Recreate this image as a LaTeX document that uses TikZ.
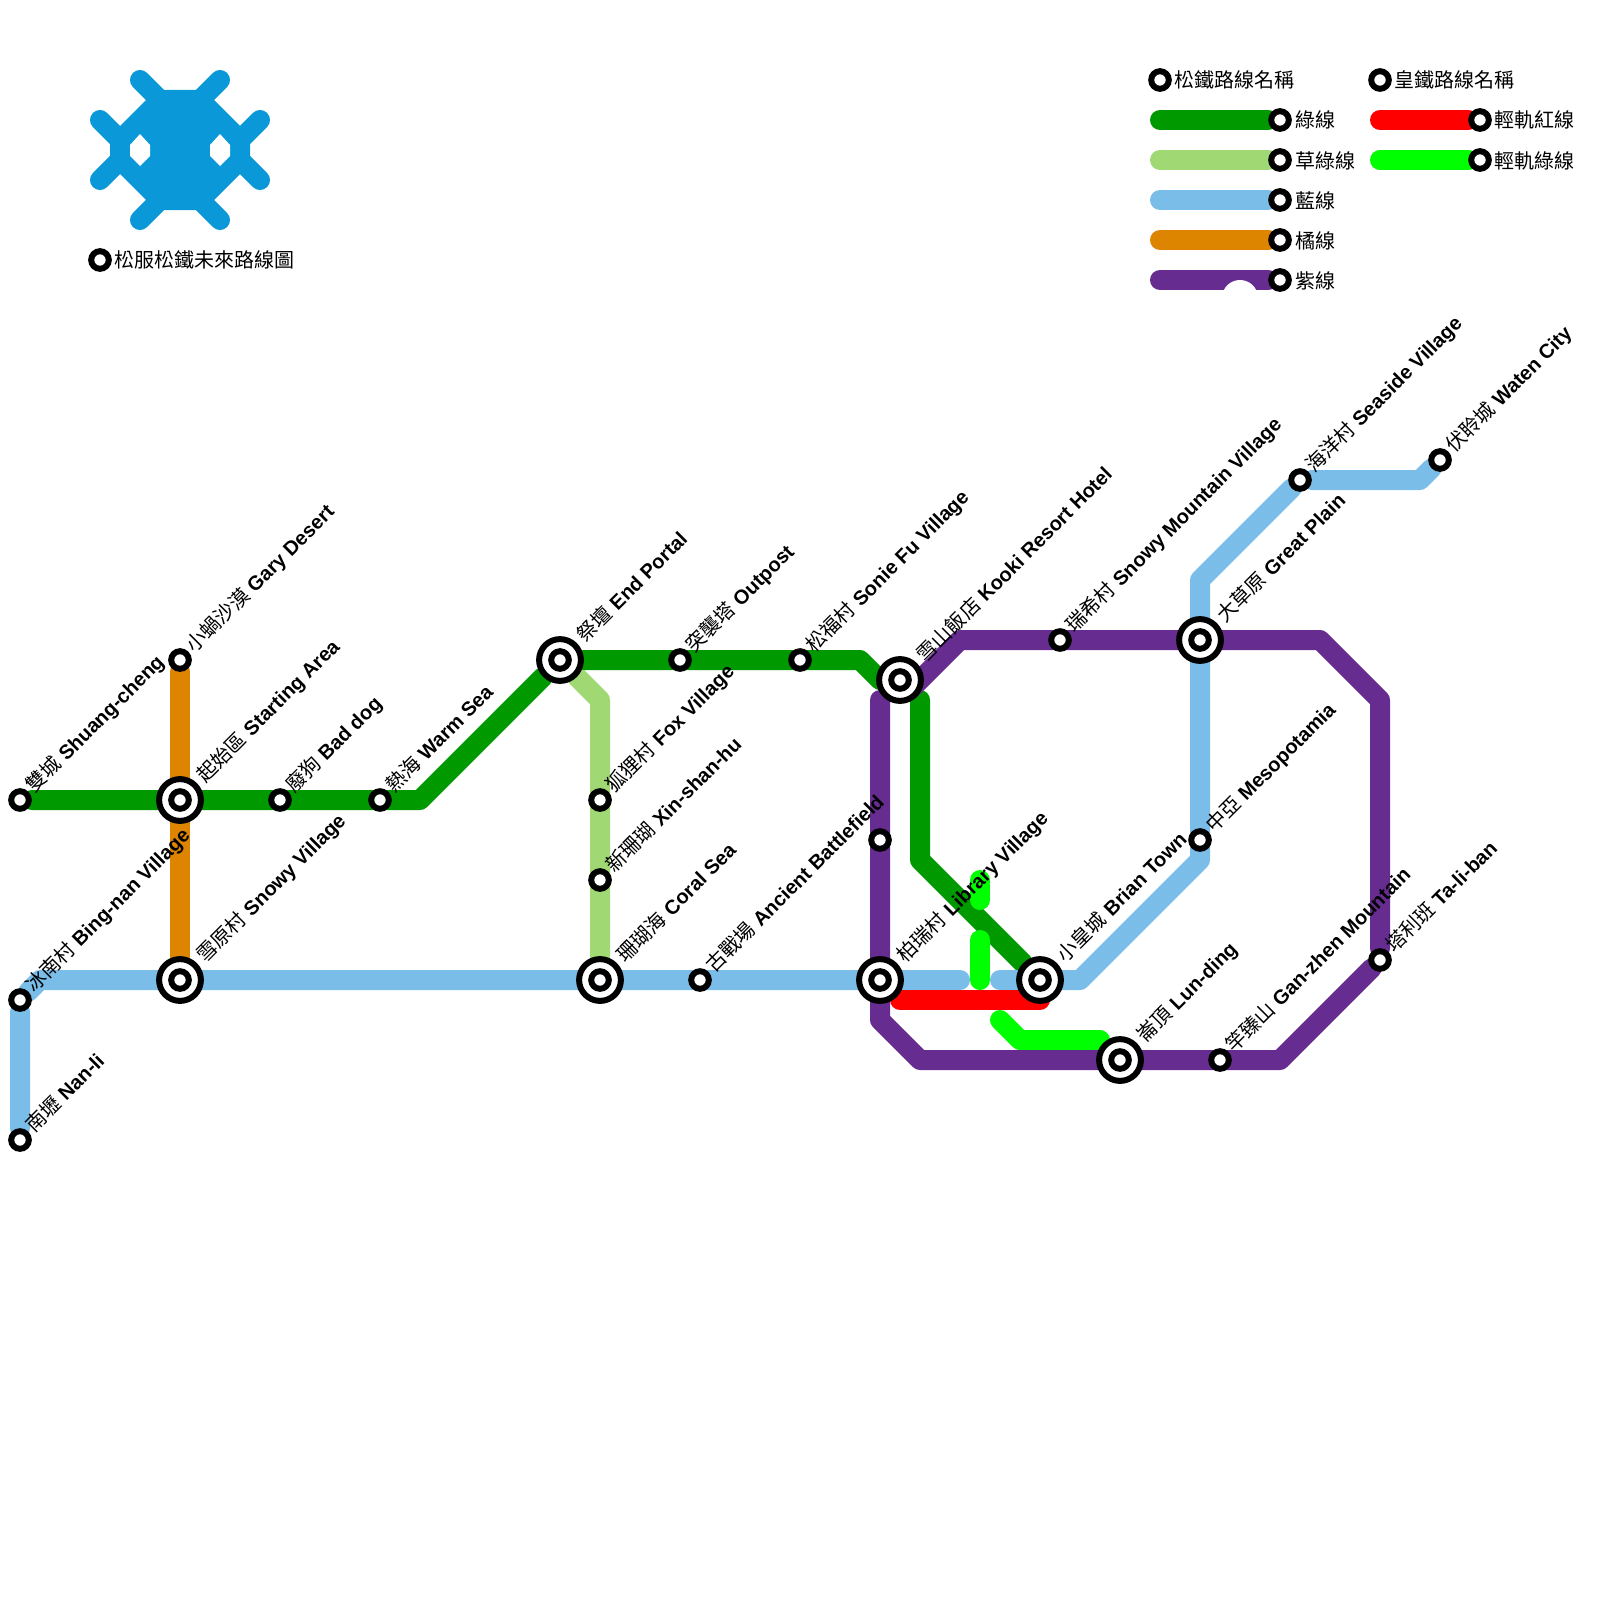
\documentclass[tikz,border=0pt]{standalone}
\usepackage{fontspec}
\usetikzlibrary{backgrounds}
\setmainfont{Liberation Sans}
\newfontfamily\cjk{Noto Sans CJK TC}
\newcommand{\name}[2]{{\cjk #1} \textbf{#2}}
\definecolor{logoblue}{HTML}{0A98D8}
\definecolor{greenline}{HTML}{009900}
\definecolor{grassline}{HTML}{A0D873}
\definecolor{blueline}{HTML}{7ABDE9}
\definecolor{orangeline}{HTML}{DD8500}
\definecolor{purpleline}{HTML}{662C90}
\definecolor{redline}{HTML}{FF0000}
\definecolor{limeline}{HTML}{00FF00}
\begin{document}
\begin{tikzpicture}[x=1pt,y=-1pt]
    \tikzset{line/.style = {line width=20pt,line cap=round,line join=round}}
    \tikzset{stop/.style = {shape=circle,draw,fill=white,line width=6pt,inner sep=0pt,minimum size=17.6pt}}
    \tikzset{hub/.style = {shape=circle,draw,fill=white,line width=6pt,inner sep=0pt,minimum size=41.8pt,label={[stop]center:}}}
    \tikzset{lab/.style = {rotate=45,anchor=base west,inner sep=0pt,font=\fontsize{20}{24}\selectfont}}
    \tikzset{txt/.style = {anchor=base west,inner sep=0pt,font=\cjk\fontsize{20}{24}\selectfont}}
    \useasboundingbox (0,0) rectangle (1600,1600);
    % logo
    \fill[logoblue] (156,90) -- (204,90) -- (250,136) -- (250,164) -- (204,210) -- (156,210) -- (110,164) -- (110,136) -- cycle;
    \draw[line,logoblue] (140,80) -- (165,105);
    \draw[line,logoblue] (220,80) -- (195,105);
    \draw[line,logoblue] (140,220) -- (165,195);
    \draw[line,logoblue] (220,220) -- (195,195);
    \draw[line,logoblue] (100,120) -- (118,138);
    \draw[line,logoblue] (100,180) -- (118,162);
    \draw[line,logoblue] (260,120) -- (242,138);
    \draw[line,logoblue] (260,180) -- (242,162);
    \fill[white] (140,134) -- (150,145) -- (150,156) -- (140,166) -- (130,156) -- (130,145) -- cycle;
    \fill[white] (220,134) -- (230,145) -- (230,156) -- (220,166) -- (210,156) -- (210,145) -- cycle;
    \node[stop] (title) at (100,260) {};
    \node[txt] (titletxt) at (114.5,267.5) {松服松鐵未來路線圖};
    % bends
    \coordinate (g1) at (420,800);
    \coordinate (g2) at (860,660);
    \coordinate (g3) at (880,680);
    \coordinate (g4) at (920,700);
    \coordinate (g5) at (920,860);
    \coordinate (s1) at (600,700);
    \coordinate (b1) at (40,980);
    \coordinate (b2) at (960,980);
    \coordinate (b3) at (1000,980);
    \coordinate (b4) at (1080,980);
    \coordinate (b5) at (1200,860);
    \coordinate (b6) at (1200,580);
    \coordinate (b7) at (1420,480);
    \coordinate (p1) at (880,700);
    \coordinate (p2) at (880,1020);
    \coordinate (p3) at (920,1060);
    \coordinate (p4) at (1280,1060);
    \coordinate (p5) at (1380,700);
    \coordinate (p6) at (1320,640);
    \coordinate (p7) at (960,640);
    \coordinate (p8) at (910,690);
    \coordinate (r1) at (900,1000);
    \coordinate (r2) at (1040,1000);
    \coordinate (l1) at (980,880);
    \coordinate (l2) at (980,900);
    \coordinate (l3) at (980,940);
    \coordinate (l4) at (980,980);
    \coordinate (l5) at (1000,1020);
    \coordinate (l6) at (1020,1040);
    \coordinate (l7) at (1100,1040);
    % stations
    \node[stop] (shuang) at (20,800) {};
    \node[hub] (start) at (180,800) {};
    \node[stop] (gary) at (180,660) {};
    \node[stop] (baddog) at (280,800) {};
    \node[stop] (warm) at (380,800) {};
    \node[hub] (portal) at (560,660) {};
    \node[stop] (outpost) at (680,660) {};
    \node[stop] (sonie) at (800,660) {};
    \node[hub] (kooki) at (900,680) {};
    \node[hub] (brian) at (1040,980) {};
    \node[stop] (fox) at (600,800) {};
    \node[stop] (xin) at (600,880) {};
    \node[hub] (coral) at (600,980) {};
    \node[stop] (bing) at (20,1000) {};
    \node[stop] (nanli) at (20,1140) {};
    \node[hub] (snowy) at (180,980) {};
    \node[stop] (ancient) at (700,980) {};
    \node[hub] (library) at (880,980) {};
    \node[stop] (battle) at (880,840) {};
    \node[stop] (meso) at (1200,840) {};
    \node[hub] (plain) at (1200,640) {};
    \node[stop] (seaside) at (1300,480) {};
    \node[stop] (waten) at (1440,460) {};
    \node[stop] (mountain) at (1060,640) {};
    \node[hub] (lun) at (1120,1060) {};
    \node[stop] (gan) at (1220,1060) {};
    \node[stop] (tali) at (1380,960) {};
    % lines
    \begin{pgfonlayer}{background}
    \draw[line,orangeline] (gary) -- (snowy);
    \draw[line,grassline] (portal) -- (s1) -- (coral);
    \draw[line,greenline] (shuang) -- (g1) -- (portal) -- (g2) -- (g3);
    \draw[line,greenline] (g4) -- (g5) -- (brian);
    \draw[line,blueline] (nanli) -- (bing) -- (b1) -- (b2);
    \draw[line,blueline] (b3) -- (b4) -- (b5) -- (b6) -- (seaside) -- (b7) -- (waten);
    \draw[line,limeline] (l1) -- (l2);
    \draw[line,limeline] (l3) -- (l4);
    \draw[line,limeline] (l5) -- (l6) -- (l7);
    \draw[line,redline] (r1) -- (r2);
    \draw[line,purpleline] (p1) -- (p2) -- (p3) -- (p4) -- (tali) -- (p5) -- (p6) -- (p7) -- (p8);
    \end{pgfonlayer}
    % labels
    \node[lab] (shuanglab) at (34.5,794) {\name{雙城}{Shuang-cheng}};
    \node[lab] (startlab) at (205.5,783.5) {\name{起始區}{Starting Area}};
    \node[lab] (garylab) at (194.5,654) {\name{小蝸沙漠}{Gary Desert}};
    \node[lab] (baddoglab) at (294,794) {\name{廢狗}{Bad dog}};
    \node[lab] (warmlab) at (394,794) {\name{熱海}{Warm Sea}};
    \node[lab] (portallab) at (585.5,643.5) {\name{祭壇}{End Portal}};
    \node[lab] (outpostlab) at (694.5,654) {\name{突襲塔}{Outpost}};
    \node[lab] (sonielab) at (814.5,654) {\name{松福村}{Sonie Fu Village}};
    \node[lab] (kookilab) at (925.5,663.5) {\name{雪山飯店}{Kooki Resort Hotel}};
    \node[lab] (brianlab) at (1065.5,963.5) {\name{小皇城}{Brian Town}};
    \node[lab] (foxlab) at (614.5,794) {\name{狐狸村}{Fox Village}};
    \node[lab] (xinlab) at (614.5,874) {\name{新珊瑚}{Xin-shan-hu}};
    \node[lab] (corallab) at (625.5,963.5) {\name{珊瑚海}{Coral Sea}};
    \node[lab] (binglab) at (34,994) {\name{冰南村}{Bing-nan Village}};
    \node[lab] (nanlilab) at (34,1134) {\name{南壢}{Nan-li}};
    \node[lab] (snowylab) at (205.5,963.5) {\name{雪原村}{Snowy Village}};
    \node[lab] (ancientlab) at (714.5,974) {\name{古戰場}{Ancient Battlefield}};
    \node[lab] (librarylab) at (905.5,963.5) {\name{柏瑞村}{Library Village}};
    \node[lab] (mesolab) at (1214,834) {\name{中亞}{Mesopotamia}};
    \node[lab] (plainlab) at (1225.5,623.5) {\name{大草原}{Great Plain}};
    \node[lab] (seasidelab) at (1314,474) {\name{海洋村}{Seaside Village}};
    \node[lab] (watenlab) at (1454,454) {\name{伏聆城}{Waten City}};
    \node[lab] (mountainlab) at (1074.5,634) {\name{瑞希村}{Snowy Mountain Village}};
    \node[lab] (lunlab) at (1145.5,1043.5) {\name{崙頂}{Lun-ding}};
    \node[lab] (ganlab) at (1234,1054) {\name{竿臻山}{Gan-zhen Mountain}};
    \node[lab] (talilab) at (1394,954) {\name{塔利班}{Ta-li-ban}};
    % legend
    \coordinate (k1) at (1160,120);
    \coordinate (k2) at (1160,160);
    \coordinate (k3) at (1160,200);
    \coordinate (k4) at (1160,240);
    \coordinate (k5) at (1160,280);
    \coordinate (k6) at (1380,120);
    \coordinate (k7) at (1380,160);
    \node[stop] (keysong) at (1160,80) {};
    \node[stop] (keyhuang) at (1380,80) {};
    \node[stop] (keygreen) at (1280,120) {};
    \node[stop] (keygrass) at (1280,160) {};
    \node[stop] (keyblue) at (1280,200) {};
    \node[stop] (keyorange) at (1280,240) {};
    \node[stop] (keypurple) at (1280,280) {};
    \node[stop] (keyred) at (1480,120) {};
    \node[stop] (keylime) at (1480,160) {};
    \begin{pgfonlayer}{background}
    \draw[line,greenline] (k1) -- (keygreen);
    \draw[line,grassline] (k2) -- (keygrass);
    \draw[line,blueline] (k3) -- (keyblue);
    \draw[line,orangeline] (k4) -- (keyorange);
    \draw[line,purpleline] (k5) -- (keypurple);
    \draw[line,redline] (k6) -- (keyred);
    \draw[line,limeline] (k7) -- (keylime);
    \fill[white] (1240,298) circle (18);
    \end{pgfonlayer}
    \node[txt] (songtxt) at (1174.5,88) {松鐵路線名稱};
    \node[txt] (huangtxt) at (1394.5,88) {皇鐵路線名稱};
    \node[txt] (greentxt) at (1295,128) {綠線};
    \node[txt] (grasstxt) at (1295,168) {草綠線};
    \node[txt] (bluetxt) at (1295,208) {藍線};
    \node[txt] (orangetxt) at (1295,248) {橘線};
    \node[txt] (purpletxt) at (1295,288) {紫線};
    \node[txt] (redtxt) at (1494.5,128) {輕軌紅線};
    \node[txt] (limetxt) at (1494.5,168) {輕軌綠線};
\end{tikzpicture}
\end{document}
